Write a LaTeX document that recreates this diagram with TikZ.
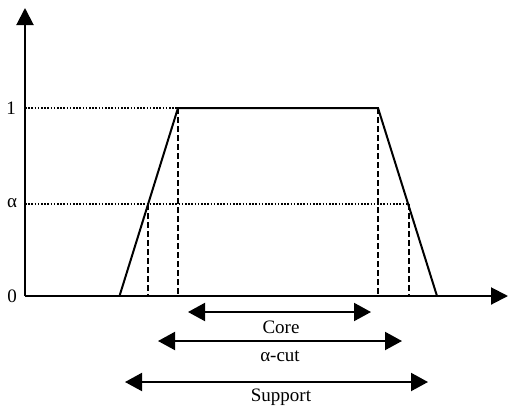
\documentclass[tikz,border=0pt]{standalone}
\usepackage{fontspec}
\setmainfont{Liberation Serif}
\usetikzlibrary{arrows.meta}
\begin{document}
\begin{tikzpicture}[x=1pt,y=-1pt,
  axis/.style={line width=2pt,-{Triangle[length=17pt,width=17pt]}},
  curve/.style={line width=2pt,line join=miter},
  guide/.style={line width=1.4pt,dash pattern=on 6pt off 3pt},
  dotline/.style={line width=1.1pt,dash pattern=on 1.6pt off 1.6pt},
  span/.style={line width=2pt,{Triangle[length=17pt,width=18pt]}-{Triangle[length=17pt,width=18pt]}},
  lbl/.style={font=\fontsize{19}{21}\selectfont,inner sep=0pt}]
\useasboundingbox (0,0) rectangle (508,407);
% coordinates
\coordinate (O) at (25,296);
\coordinate (ytop) at (25,8);
\coordinate (xend) at (508,296);
\coordinate (a) at (119.5,296);
\coordinate (b) at (178,108);
\coordinate (c) at (378,108);
\coordinate (d) at (437,296);
\coordinate (al) at (148,204);
\coordinate (ar) at (409,204);
\coordinate (one) at (25,108);
\coordinate (alf) at (25,204);
% dotted guides
\draw[dotline] (one) -- (b);
\draw[dotline] (alf) -- (ar);
% dashed verticals
\draw[guide] (al) -- (al |- O);
\draw[guide] (b) -- (b |- O);
\draw[guide] (c) -- (c |- O);
\draw[guide] (ar) -- (ar |- O);
% axes
\draw[axis] (O) -- (ytop);
\draw[axis] (O) -- (xend);
% trapezoid
\draw[curve] (a) -- (b) -- (c) -- (d);
% axis labels
\node[lbl] (l1) at (11,108) {1};
\node[lbl] (la) at (12,203) {α};
\node[lbl] (l0) at (12,296) {0};
% spans
\coordinate (cs) at (188,312); \coordinate (ce) at (371,312);
\coordinate (as) at (158,341); \coordinate (ae) at (402,341);
\coordinate (ss) at (125,382); \coordinate (se) at (428,382);
\draw[span] (cs) -- (ce);
\draw[span] (as) -- (ae);
\draw[span] (ss) -- (se);
\node[lbl] (tcore) at (281,327) {Core};
\node[lbl] (tcut) at (280,356) {α-cut};
\node[lbl] (tsup) at (281,397) {Support};
\end{tikzpicture}
\end{document}
